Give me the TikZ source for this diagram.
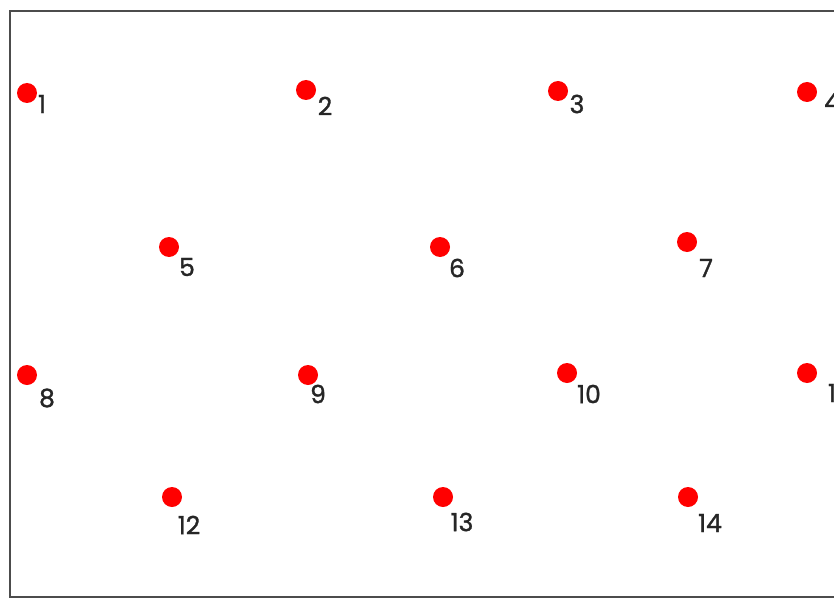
\documentclass[tikz,border=0pt]{standalone}
\usepackage{fontspec}
\setmainfont{Poppins}
\newfontfamily\lblfont{Poppins}[FakeBold=1.2]
\begin{document}
\begin{tikzpicture}[x=1pt,y=-1pt,
  dotmark/.style={circle,fill=red,inner sep=0pt,minimum size=20pt},
  lbl/.style={inner sep=0pt,font=\lblfont\fontsize{25}{25}\selectfont,text=black!85}]
\useasboundingbox (0,0) rectangle (834,599);
\fill[white] (0,0) rectangle (834,599);
\draw[line width=2pt,black!70] (840,11) -- (10,11) -- (10,597) -- (840,597);
\foreach \n/\dx/\dy/\lx/\ly in {
  1/27/93/42/104, 2/306/90/325/106, 3/558/91/577/104, 4/807/92/832/102,
  5/169/247/187/267, 6/440/247/457/268, 7/687/242/706/268,
  8/27/375/47/398, 9/308/375/318/394, 10/567/373/589/394, 11/807/373/836/393,
  12/172/497/189/525, 13/443/497/462/522, 14/688/497/710/523}{
  \node[dotmark] (d\n) at (\dx,\dy) {};
  \node[lbl] (l\n) at (\lx,\ly) {\n};
}
\end{tikzpicture}
\end{document}
